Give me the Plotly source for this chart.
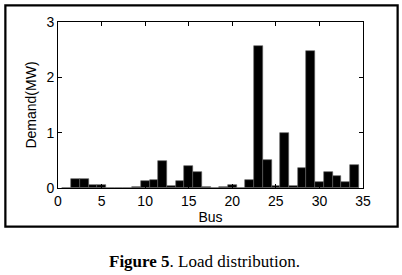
import plotly.graph_objects as go

buses = list(range(1, 35))
demand_mw = [0.0, 0.17, 0.17, 0.06, 0.06, 0.0, 0.0, 0.0, 0.02, 0.12,
             0.15, 0.49, 0.04, 0.13, 0.40, 0.29, 0.02, 0.0, 0.02, 0.06,
             0.0, 0.15, 2.56, 0.51, 0.03, 0.99, 0.04, 0.36, 2.47, 0.10,
             0.29, 0.22, 0.10, 0.42]
x_ticks = [0, 5, 10, 15, 20, 25, 30, 35]
y_ticks = [0, 1, 2, 3]

L, R, T, B = 58, 39, 22, 87
W, H = 402, 275
pw, ph = W - L - R, H - T - B

def px(x):
    return (x - L) / pw

def py(y):
    return (H - B - y) / ph

fig = go.Figure(go.Bar(
    x=buses, y=demand_mw, width=1,
    marker=dict(color="black", line=dict(color="#606060", width=0.6)),
))

font_sans = "Liberation Sans, Arial"
axis_common = dict(
    showgrid=False, zeroline=False, showline=True, linecolor="black",
    linewidth=1, mirror="ticks", ticks="inside", ticklen=4,
    tickcolor="black", tickfont=dict(family=font_sans, size=14, color="black"),
)
fig.update_xaxes(range=[0, 35], tickvals=x_ticks,
                 title=dict(text="Bus", font=dict(family=font_sans, size=14, color="black"), standoff=4),
                 **axis_common)
fig.update_yaxes(range=[0, 3], tickvals=y_ticks,
                 title=dict(text="Demand(MW)", font=dict(family=font_sans, size=14, color="black"), standoff=6),
                 **axis_common)

# outer frame
fig.add_shape(type="rect", xref="paper", yref="paper",
              x0=px(5), x1=px(398), y0=py(227), y1=py(5),
              line=dict(color="black", width=1.5))
fig.add_annotation(xref="paper", yref="paper", x=px(201.5), y=py(116),
                   xanchor="center", yanchor="middle", text="&nbsp;", showarrow=False,
                   width=390, height=219, borderpad=0, borderwidth=1.5,
                   bordercolor="black")

fig.add_annotation(xref="paper", yref="paper", x=px(204.5), y=py(261),
                   text="<b>Figure 5</b>. Load distribution.", showarrow=False,
                   font=dict(family="Liberation Serif, DejaVu Serif", size=17, color="black"),
                   xanchor="center", yanchor="middle")

fig.update_layout(
    width=W, height=H, margin=dict(l=L, r=R, t=T, b=B),
    plot_bgcolor="white", paper_bgcolor="white", bargap=0,
    showlegend=False,
)
fig.write_html("out.html", config={"displayModeBar": False},
               post_script="document.body.style.margin='0';document.body.style.overflow='hidden';")
